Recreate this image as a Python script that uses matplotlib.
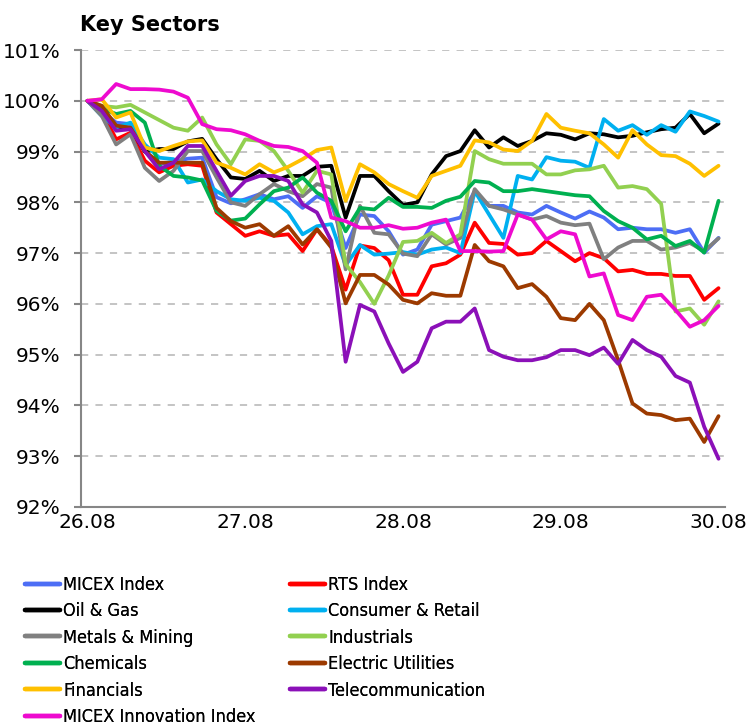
import matplotlib
matplotlib.use("Agg")
import matplotlib.pyplot as plt

# x axis: 45 intraday points, 26.08 .. 30.08
day_labels = ["26.08", "27.08", "28.08", "29.08", "30.08"]
day_pos = [0, 11, 22, 33, 44]

micex = [100, 99.8, 99.57, 99.54, 99.0, 98.75, 98.8, 98.86, 98.88, 98.1, 97.98, 98.06,
         98.16, 98.06, 98.12, 97.89, 98.12, 97.99, 97.1, 97.76, 97.73, 97.43, 96.97,
         97.07, 97.56, 97.63, 97.7, 98.22, 97.93, 97.93, 97.8, 97.76, 97.93, 97.8,
         97.68, 97.82, 97.7, 97.47, 97.5, 97.47, 97.47, 97.4, 97.47, 97.01, 97.3]
rts = [100, 99.8, 99.24, 99.37, 98.82, 98.59, 98.72, 98.75, 98.72, 97.8, 97.57, 97.34,
       97.43, 97.34, 97.37, 97.04, 97.47, 97.14, 96.28, 97.15, 97.1, 96.86, 96.18,
       96.18, 96.74, 96.8, 96.97, 97.6, 97.2, 97.18, 96.97, 97.0, 97.24, 97.04,
       96.84, 97.0, 96.9, 96.64, 96.67, 96.59, 96.59, 96.55, 96.55, 96.08, 96.31]
oil_gas = [100, 99.75, 99.45, 99.45, 99.0, 99.05, 99.05, 99.2, 99.25, 98.85, 98.49, 98.46,
           98.62, 98.42, 98.52, 98.52, 98.7, 98.72, 97.7, 98.52, 98.52, 98.22, 97.95,
           98.0, 98.55, 98.91, 99.01, 99.42, 99.08, 99.28, 99.11, 99.21, 99.36, 99.33,
           99.24, 99.36, 99.34, 99.28, 99.31, 99.38, 99.44, 99.47, 99.74, 99.36, 99.55]
consumer = [100, 99.7, 99.47, 99.57, 99.14, 98.88, 98.85, 98.39, 98.45, 98.22, 98.06, 98.03,
            98.09, 98.03, 97.8, 97.37, 97.53, 97.57, 96.76, 97.16, 96.97, 96.99, 97.02,
            96.97, 97.07, 97.11, 97.0, 98.22, 97.76, 97.3, 98.52, 98.45, 98.89, 98.82,
            98.8, 98.68, 99.64, 99.41, 99.52, 99.33, 99.52, 99.39, 99.79, 99.7, 99.59]
metals = [100, 99.7, 99.14, 99.34, 98.68, 98.42, 98.62, 99.01, 99.01, 98.49, 98.0, 97.93,
          98.16, 98.36, 98.22, 98.12, 98.36, 98.29, 96.68, 97.93, 97.4, 97.37, 96.99,
          96.94, 97.37, 97.17, 97.3, 98.26, 97.93, 97.86, 97.76, 97.66, 97.73, 97.6,
          97.55, 97.58, 96.88, 97.11, 97.24, 97.24, 97.07, 97.11, 97.2, 97.04, 97.29]
industrials = [100, 99.9, 99.87, 99.92, 99.77, 99.62, 99.47, 99.41, 99.67, 99.14, 98.75, 99.24,
               99.21, 99.01, 98.62, 98.19, 98.62, 98.55, 96.78, 96.43, 96.0, 96.56, 97.22,
               97.24, 97.4, 97.2, 97.37, 99.01, 98.85, 98.76, 98.76, 98.76, 98.55, 98.55,
               98.63, 98.65, 98.72, 98.29, 98.32, 98.26, 97.97, 95.85, 95.91, 95.59, 96.05]
chemicals = [100, 99.85, 99.74, 99.8, 99.57, 98.72, 98.52, 98.49, 98.43, 97.83, 97.64, 97.68,
             97.96, 98.22, 98.29, 98.49, 98.19, 98.03, 97.43, 97.89, 97.86, 98.09, 97.91,
             97.91, 97.89, 98.03, 98.11, 98.42, 98.39, 98.22, 98.22, 98.26, 98.22, 98.18,
             98.14, 98.12, 97.83, 97.63, 97.5, 97.27, 97.34, 97.14, 97.24, 97.01, 98.03]
electric = [100, 99.9, 99.51, 99.47, 99.01, 98.78, 98.78, 98.78, 98.78, 97.89, 97.63, 97.5,
            97.57, 97.34, 97.53, 97.17, 97.47, 97.11, 96.01, 96.57, 96.57, 96.38, 96.08,
            96.01, 96.21, 96.16, 96.16, 97.16, 96.84, 96.74, 96.31, 96.39, 96.14, 95.72,
            95.68, 96.0, 95.68, 94.89, 94.04, 93.84, 93.81, 93.71, 93.74, 93.28, 93.79]
financials = [100, 100.03, 99.67, 99.77, 99.08, 99.01, 99.11, 99.2, 99.22, 98.78, 98.68, 98.55,
              98.75, 98.59, 98.7, 98.85, 99.03, 99.08, 98.03, 98.75, 98.59, 98.36, 98.22,
              98.09, 98.52, 98.62, 98.72, 99.22, 99.18, 99.04, 99.01, 99.21, 99.74, 99.47,
              99.41, 99.36, 99.14, 98.88, 99.42, 99.14, 98.93, 98.91, 98.76, 98.52, 98.72]
telecom = [100, 99.8, 99.41, 99.44, 99.01, 98.65, 98.78, 99.11, 99.11, 98.62, 98.13, 98.42,
           98.52, 98.52, 98.42, 97.96, 97.8, 97.24, 94.86, 95.98, 95.85, 95.22, 94.66,
           94.86, 95.52, 95.65, 95.65, 95.91, 95.09, 94.96, 94.89, 94.89, 94.95, 95.09,
           95.09, 94.99, 95.14, 94.82, 95.29, 95.09, 94.96, 94.58, 94.45, 93.58, 92.95]
innovation = [100, 100.03, 100.33, 100.23, 100.23, 100.22, 100.18, 100.06, 99.54, 99.44, 99.42, 99.34,
              99.21, 99.11, 99.09, 99.01, 98.78, 97.7, 97.63, 97.5, 97.5, 97.55, 97.48,
              97.5, 97.6, 97.66, 97.04, 97.04, 97.03, 97.04, 97.76, 97.66, 97.27, 97.43,
              97.37, 96.54, 96.6, 95.78, 95.68, 96.14, 96.18, 95.88, 95.55, 95.68, 95.96]

series = [
    ("MICEX Index", micex, "#4D6EF5"),
    ("RTS Index", rts, "#FF0000"),
    ("Oil & Gas", oil_gas, "#000000"),
    ("Consumer & Retail", consumer, "#00B0F0"),
    ("Metals & Mining", metals, "#808080"),
    ("Industrials", industrials, "#92D050"),
    ("Chemicals", chemicals, "#00B050"),
    ("Electric Utilities", electric, "#9C3A00"),
    ("Financials", financials, "#FFC000"),
    ("Telecommunication", telecom, "#8B10B8"),
    ("MICEX Innovation Index", innovation, "#EE0ACF"),
]

fig = plt.figure(figsize=(7.49, 7.27), dpi=100)
ax = fig.add_axes([81 / 749, 1 - 507 / 727, (725 - 81) / 749, (507 - 50) / 727])

handles = {}
for name, vals, col in series:
    x = list(range(len(vals)))
    (ln,) = ax.plot(x, vals, color=col, lw=2.7, solid_joinstyle="round",
                    solid_capstyle="round", label=name)
    handles[name] = ln

ax.set_xlim(-0.45, 44.45)
ax.set_ylim(92, 101)
ax.set_yticks(range(92, 102))
ax.set_yticklabels([f"{v}%" for v in range(92, 102)])
ax.set_xticks(day_pos)
ax.set_xticklabels(day_labels)
ax.tick_params(axis="x", length=0, pad=4, labelsize=14.5)
ax.tick_params(axis="y", length=5, width=1.5, color="#868686", pad=9.5, labelsize=14.5)
ax.yaxis.grid(True, color="#BFBFBF", linestyle=(0, (4, 4)), linewidth=1.3)
ax.set_axisbelow(True)
for s in ["top", "right"]:
    ax.spines[s].set_visible(False)
for s in ["left", "bottom"]:
    ax.spines[s].set_color("#868686")
    ax.spines[s].set_linewidth(1.5)

fig.text(80 / 749, 1 - 25 / 727, "Key Sectors", fontsize=15, fontweight="bold", va="center")

# legend laid out as two columns, like the original
left_names = ["MICEX Index", "Oil & Gas", "Metals & Mining", "Chemicals", "Financials",
              "MICEX Innovation Index"]
right_names = ["RTS Index", "Consumer & Retail", "Industrials", "Electric Utilities",
               "Telecommunication"]
leg_kw = dict(loc="upper left", frameon=False,
              prop={"family": ["DejaVu Sans"], "stretch": "condensed", "size": 13},
              handlelength=1.94, handletextpad=0.17, labelspacing=0.465,
              borderpad=0, borderaxespad=0)
for names, x0 in [(left_names, 25), (right_names, 290)]:
    leg = fig.legend([handles[n] for n in names], names,
                     bbox_to_anchor=(x0 / 749, 1 - 576 / 727), **leg_kw)
    for h in leg.get_lines():
        h.set_linewidth(3.2)
    fig.add_artist(leg)

fig.savefig("out.png", dpi=100)
